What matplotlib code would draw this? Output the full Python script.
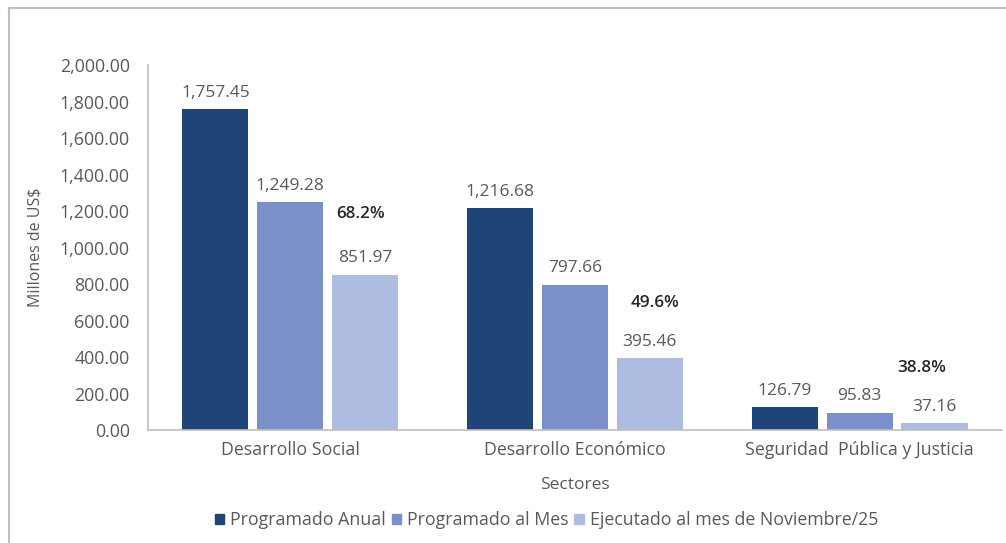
import matplotlib
matplotlib.use("Agg")
import matplotlib.pyplot as plt
import numpy as np
from matplotlib.patches import Rectangle
from matplotlib.lines import Line2D

plt.rcParams['font.family'] = ['Open Sans', 'DejaVu Sans']

categories = ["Desarrollo Social", "Desarrollo Económico", "Seguridad  Pública y Justicia"]
series_names = ["Programado Anual", "Programado al Mes", "Ejecutado al mes de Noviembre/25"]
programado_anual = [1757.45, 1216.68, 126.79]
programado_mes = [1249.28, 797.66, 95.83]
ejecutado = [851.97, 395.46, 37.16]
porcentajes = ["68.2%", "49.6%", "38.8%"]
yticks = [0, 200, 400, 600, 800, 1000, 1200, 1400, 1600, 1800, 2000]

# label placement (layout, not data)
pct_dx = [0.249, 0.28, 0.218]
pct_y = [1184, 696, 340]

colors = ['#1F4478', '#7B90C9', '#ADBCE0']
text_color = '#595959'

fig = plt.figure(figsize=(10.06, 5.43), dpi=100)
ax = fig.add_axes([0.147, 0.208, 0.849, 0.672])

x = np.arange(len(categories))
width = 0.232
offset = 0.263
series = [programado_anual, programado_mes, ejecutado]
for i, (vals, c, name) in enumerate(zip(series, colors, series_names)):
    pos = x + (i - 1) * offset
    ax.bar(pos, vals, width, color=c, label=name)
    for xp, v in zip(pos, vals):
        ax.text(xp, v + 45, f"{v:,.2f}", ha='center', va='bottom',
                fontsize=12.5, color=text_color)

for xi, p, dx, py in zip(x, porcentajes, pct_dx, pct_y):
    ax.text(xi + dx, py, p, ha='center', va='center',
            fontsize=12.3, fontweight='semibold', color='#262626')

ax.set_xlim(-0.5, 2.5)
ax.set_ylim(0, 2000)
ax.set_yticks(yticks)
ax.set_yticklabels([f"{t:,.2f}" for t in yticks])
ax.set_xticks(x)
ax.set_xticklabels(categories)
ax.tick_params(axis='both', length=0, labelsize=12.8, colors=text_color)
ax.tick_params(axis='y', pad=13)
ax.tick_params(axis='x', pad=8)
for s in ['top', 'right']:
    ax.spines[s].set_visible(False)
for s in ['left', 'bottom']:
    ax.spines[s].set_color('#BFBFBF')
    ax.spines[s].set_linewidth(1.2)

ax.set_ylabel("Millones de US$", fontsize=11.5, color=text_color, labelpad=12)
ax.set_xlabel("Sectores", fontsize=12.5, color=text_color, labelpad=13)

handles = [Rectangle((0, 0), 1, 1, color=c) for c in colors]
fig.legend(handles, series_names, loc='center', bbox_to_anchor=(0.543, 0.042),
           ncol=3, frameon=False, fontsize=12.8, handlelength=0.55, handleheight=0.55,
           handletextpad=0.3, columnspacing=0.35, labelcolor=text_color)

# outer border (top and left)
fig.add_artist(Line2D([9/1006, 9/1006], [0, 1 - 8/543], transform=fig.transFigure,
                      color='#BFBFBF', lw=1.5))
fig.add_artist(Line2D([9/1006, 1], [1 - 8/543, 1 - 8/543], transform=fig.transFigure,
                      color='#BFBFBF', lw=1.5))

fig.savefig("out.png", dpi=100)
